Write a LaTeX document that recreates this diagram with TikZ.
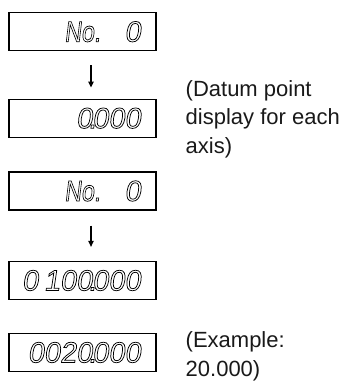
\documentclass[tikz,border=0pt]{standalone}
\usepackage{fontspec}
\setmainfont{Liberation Sans}
\newfontfamily\lcdfont[FakeSlant=0.15]{Liberation Sans}
\usetikzlibrary{arrows.meta}
\newcommand{\lcd}[1]{\special{pdf:literal direct 1 Tr}#1\special{pdf:literal direct 0 Tr}}
\newcommand{\dpt}{\kern-0.14em.\kern-0.14em}
\newcommand{\nolabel}{\scalebox{0.8}[1]{No.}}
\tikzset{
  displaybox/.style={draw=black, line width=1.3pt, minimum width=147pt, minimum height=38pt, inner sep=0pt},
  lcdtext/.style={anchor=east, inner sep=0pt, line width=0.75pt,
    font=\lcdfont\fontsize{29}{29}\selectfont},
  flowarrow/.style={line width=1.2pt, -{Triangle[length=6pt,width=5.5pt]}},
  note/.style={anchor=north west, align=left, inner sep=0pt, text=black!90,
    font=\fontsize{22}{28.5}\selectfont}
}
\begin{document}
\begin{tikzpicture}[x=1pt,y=-1pt]
\useasboundingbox (0,0) rectangle (353,385);
\node[lcdtext] (t1) at (141,31.7) {\lcd{\nolabel\hspace{24pt}0}};
\node[lcdtext] (t2) at (141,118.2) {\lcd{0\dpt000}};
\node[lcdtext] (t3) at (141,191) {\lcd{\nolabel\hspace{24pt}0}};
\node[lcdtext] (t4) at (141,280.5) {\lcd{0\kern-0.08em{} 100\dpt000}};
\node[lcdtext] (t5) at (141,352.5) {\lcd{0020\dpt000}};
\node[displaybox] (b1) at (82.5,31.7) {};
\node[displaybox] (b2) at (82.5,118.2) {};
\node[displaybox] (b3) at (82.5,191) {};
\node[displaybox] (b4) at (82.5,280.5) {};
\node[displaybox] (b5) at (82.5,352.5) {};
\draw[flowarrow, shorten <=14pt, shorten >=11pt] ([xshift=8.5pt]b1.south) -- ([xshift=8.5pt]b2.north);
\draw[flowarrow, shorten <=15pt, shorten >=14pt] ([xshift=8.5pt]b3.south) -- ([xshift=8.5pt]b4.north);
\node[note] (n1) at (185.5,80) {(Datum point\\display for each\\axis)};
\node[note] (n2) at (185.5,331.5) {(Example:\\20.000)};
\end{tikzpicture}
\end{document}
